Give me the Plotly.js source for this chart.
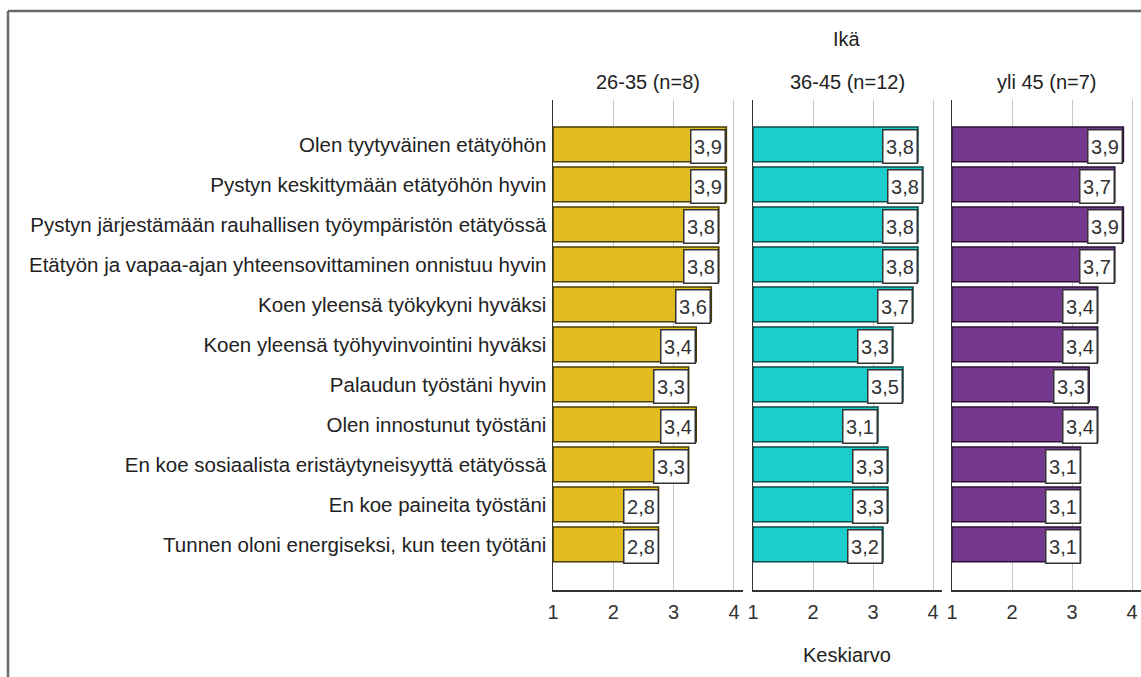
<!DOCTYPE html>
<html>
<head>
<meta charset="utf-8">
<script src="https://cdn.plot.ly/plotly-3.0.1.min.js"></script>
<style>
  html, body { margin: 0; padding: 0; background: #fff; }
  #chart { width: 1141px; height: 677px; }
</style>
</head>
<body>
<div id="chart"></div>
<script>
const categories = [
  "Olen tyytyväinen etätyöhön",
  "Pystyn keskittymään etätyöhön hyvin",
  "Pystyn järjestämään rauhallisen työympäristön etätyössä",
  "Etätyön ja vapaa-ajan yhteensovittaminen onnistuu hyvin",
  "Koen yleensä työkykyni hyväksi",
  "Koen yleensä työhyvinvointini hyväksi",
  "Palaudun työstäni hyvin",
  "Olen innostunut työstäni",
  "En koe sosiaalista eristäytyneisyyttä etätyössä",
  "En koe paineita työstäni",
  "Tunnen oloni energiseksi, kun teen työtäni"
];
const groupNames = ["26-35 (n=8)", "36-45 (n=12)", "yli 45 (n=7)"];
const values26_35 = [3.875, 3.875, 3.75, 3.75, 3.625, 3.375, 3.25, 3.375, 3.25, 2.75, 2.75];
const values36_45 = [3.75, 3.833, 3.75, 3.75, 3.667, 3.333, 3.5, 3.083, 3.25, 3.25, 3.167];
const valuesYli45 = [3.857, 3.714, 3.857, 3.714, 3.429, 3.429, 3.286, 3.429, 3.143, 3.143, 3.143];
const labels26_35 = ["3,9","3,9","3,8","3,8","3,6","3,4","3,3","3,4","3,3","2,8","2,8"];
const labels36_45 = ["3,8","3,8","3,8","3,8","3,7","3,3","3,5","3,1","3,3","3,3","3,2"];
const labelsYli45 = ["3,9","3,7","3,9","3,7","3,4","3,4","3,3","3,4","3,1","3,1","3,1"];
const xTicks = [1, 2, 3, 4];
const overallTitle = "Ikä";
const xTitle = "Keskiarvo";

const W = 1141, H = 677;
const FONT = "Liberation Sans, Arial, sans-serif";
const colors = ["#E0BC1F", "#1CCDCD", "#74388C"];
const edge = ["#4a3d05", "#0b4a4a", "#2a1035"];
const seriesValues = [values26_35, values36_45, valuesYli45];
const seriesLabels = [labels26_35, labels36_45, labelsYli45];

const px = v => v / W;
const py = v => (H - v) / H;
const domains = [[px(553), px(743)], [px(753), px(942)], [px(952), px(1141)]];

const traces = [];
const annotations = [];
seriesValues.forEach((vals, i) => {
  const ax = i === 0 ? "" : String(i + 1);
  traces.push({
    type: "bar",
    orientation: "h",
    x: vals.map(v => v - 1),
    base: 1,
    y: categories,
    xaxis: "x" + ax,
    yaxis: "y" + ax,
    width: 0.87,
    marker: { color: colors[i], line: { color: edge[i], width: 1.5 } },
    hoverinfo: "skip",
    showlegend: false
  });
  vals.forEach((v, k) => {
    annotations.push({
      xref: "x" + ax, yref: "y" + ax,
      x: v, y: categories[k],
      xanchor: "right", yanchor: "middle",
      text: seriesLabels[i][k],
      showarrow: false,
      bgcolor: "#ffffff",
      bordercolor: "#333333",
      borderwidth: 1.5,
      borderpad: 0,
      width: 33, height: 32,
      yshift: -2,
      font: { family: FONT, size: 20, color: "#333333" }
    });
  });
  annotations.push({
    xref: "paper", yref: "paper",
    x: (domains[i][0] + domains[i][1]) / 2, y: py(82),
    xanchor: "center", yanchor: "middle",
    text: groupNames[i], showarrow: false,
    font: { family: FONT, size: 20, color: "#222222" }
  });
});
annotations.push({
  xref: "paper", yref: "paper", x: px(847), y: py(39),
  xanchor: "center", yanchor: "middle", text: overallTitle, showarrow: false,
  font: { family: FONT, size: 20, color: "#222222" }
});
annotations.push({
  xref: "paper", yref: "paper", x: px(847), y: py(655),
  xanchor: "center", yanchor: "middle", text: xTitle, showarrow: false,
  font: { family: FONT, size: 20, color: "#222222" }
});

const yDomain = [py(590), py(100)];
const layout = {
  width: W, height: H,
  margin: { l: 0, r: 0, t: 0, b: 0 },
  paper_bgcolor: "#ffffff",
  plot_bgcolor: "#ffffff",
  font: { family: FONT, color: "#222222" },
  barmode: "overlay",
  annotations: annotations,
  shapes: [
    { type: "line", xref: "paper", yref: "paper", x0: px(8), x1: px(8), y0: py(11), y1: -0.05,
      line: { color: "#6a6a6a", width: 2.5 } },
    { type: "line", xref: "paper", yref: "paper", x0: px(8), x1: 1.05, y0: py(11), y1: py(11),
      line: { color: "#6a6a6a", width: 2.5 } }
  ]
};
for (let i = 0; i < 3; i++) {
  const ax = i === 0 ? "" : String(i + 1);
  layout["xaxis" + ax] = {
    domain: domains[i],
    anchor: "y" + ax,
    range: [1, 4.15],
    tickvals: xTicks,
    ticktext: xTicks.map(String),
    showgrid: true, gridcolor: "#c8c8c8", gridwidth: 1,
    zeroline: false,
    showline: true, linecolor: "#333333", linewidth: 1.5,
    ticks: "", ticklabelstandoff: 3,
    tickfont: { family: FONT, size: 20, color: "#333333" },
    fixedrange: true
  };
  layout["yaxis" + ax] = {
    domain: yDomain,
    anchor: "x" + ax,
    type: "category",
    categoryorder: "array",
    categoryarray: categories,
    range: [categories.length - 1 + 1.14, -1.11],
    showgrid: false, zeroline: false,
    showline: true, linecolor: "#333333", linewidth: 1.5,
    ticks: "",
    showticklabels: i === 0,
    ticklabelstandoff: 1,
    tickfont: { family: FONT, size: 20.5, color: "#222222" },
    fixedrange: true
  };
}
Plotly.newPlot("chart", traces, layout, { displayModeBar: false, staticPlot: true });
</script>
</body>
</html>
